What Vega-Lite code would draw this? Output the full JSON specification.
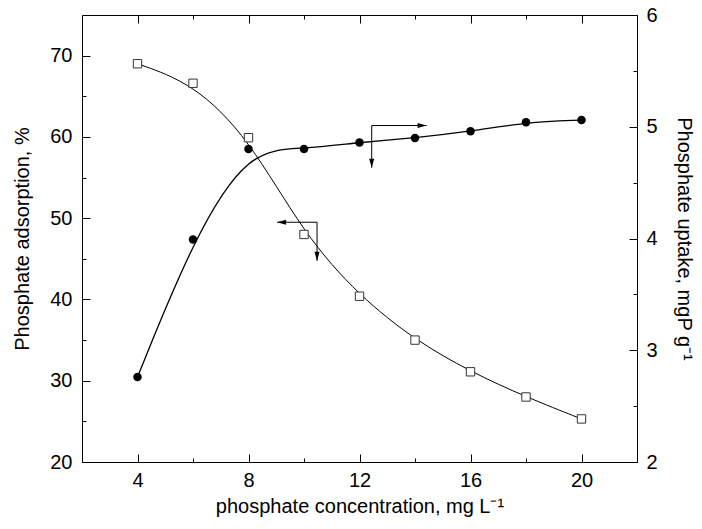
{
  "$schema": "https://vega.github.io/schema/vega-lite/v6.json",
  "width": 555,
  "height": 447,
  "autosize": {"type": "none"},
  "padding": {"left": 82, "top": 15, "right": 65, "bottom": 67},
  "background": "white",
  "config": {
    "view": {"stroke": null},
    "font": "Liberation Sans",
    "axis": {
      "grid": false,
      "labelFont": "Liberation Sans",
      "titleFont": "Liberation Sans",
      "labelFontSize": 20,
      "titleFontSize": 20,
      "titleFontWeight": "normal",
      "labelColor": "black",
      "titleColor": "black",
      "domainColor": "black",
      "domainWidth": 1,
      "tickColor": "black",
      "tickWidth": 1
    }
  },
  "datasets": {
    "ads": [
      {"c": 4, "ads": 69.0},
      {"c": 6, "ads": 66.6},
      {"c": 8, "ads": 59.9},
      {"c": 10, "ads": 48.0},
      {"c": 12, "ads": 40.4},
      {"c": 14, "ads": 35.0},
      {"c": 16, "ads": 31.1},
      {"c": 18, "ads": 28.0},
      {"c": 20, "ads": 25.3}
    ],
    "up": [
      {"c": 4, "up": 2.76},
      {"c": 6, "up": 3.99},
      {"c": 8, "up": 4.80},
      {"c": 10, "up": 4.80},
      {"c": 12, "up": 4.86},
      {"c": 14, "up": 4.90},
      {"c": 16, "up": 4.96},
      {"c": 18, "up": 5.04},
      {"c": 20, "up": 5.06}
    ],
    "segs": [
      {"x": 10.47, "x2": 9.03, "y": 49.5, "y2": 49.5},
      {"x": 10.47, "x2": 10.47, "y": 49.5, "y2": 44.75},
      {"x": 12.44, "x2": 14.42, "y": 61.4, "y2": 61.4},
      {"x": 12.44, "x2": 12.44, "y": 61.4, "y2": 56.2}
    ],
    "heads": [
      {"x": 9.03, "y": 49.5, "dir": "left"},
      {"x": 10.47, "y": 44.75, "dir": "down"},
      {"x": 14.42, "y": 61.4, "dir": "right"},
      {"x": 12.44, "y": 56.2, "dir": "down"}
    ]
  },
  "layer": [
    {
      "data": {"name": "ads"},
      "mark": {"type": "line", "interpolate": "basis", "color": "black", "strokeWidth": 1},
      "encoding": {
        "x": {
          "field": "c", "type": "quantitative",
          "scale": {"domain": [2, 22], "nice": false, "zero": false},
          "axis": {
            "orient": "bottom",
            "values": [4, 6, 8, 10, 12, 14, 16, 18, 20],
            "labelExpr": "datum.value % 4 === 0 ? datum.label : ''",
            "tickSize": {"condition": {"test": "datum.value % 4 === 0", "value": -8}, "value": -4},
            "labelPadding": 16,
            "title": "phosphate concentration, mg L⁻¹",
            "titlePadding": 6
          }
        },
        "y": {
          "field": "ads", "type": "quantitative",
          "scale": {"domain": [20, 75], "nice": false, "zero": false},
          "axis": {
            "orient": "left",
            "values": [20, 25, 30, 35, 40, 45, 50, 55, 60, 65, 70],
            "labelExpr": "datum.value % 10 === 0 ? datum.label : ''",
            "tickSize": {"condition": {"test": "datum.value % 10 === 0", "value": -8}, "value": -4},
            "labelPadding": 18,
            "title": "Phosphate adsorption, %",
            "titlePadding": 17
          }
        }
      }
    },
    {
      "data": {"name": "ads"},
      "mark": {"type": "square", "fill": "white", "stroke": "#333333", "strokeWidth": 1, "size": 70, "opacity": 1},
      "encoding": {
        "x": {"field": "c", "type": "quantitative", "scale": {"domain": [2, 22], "nice": false, "zero": false}, "axis": null},
        "y": {"field": "ads", "type": "quantitative", "scale": {"domain": [20, 75], "nice": false, "zero": false}, "axis": null}
      }
    },
    {
      "data": {"name": "up"},
      "mark": {"type": "line", "interpolate": "basis", "color": "black", "strokeWidth": 1.3},
      "encoding": {
        "x": {
          "field": "c", "type": "quantitative",
          "scale": {"domain": [2, 22], "nice": false, "zero": false},
          "axis": {
            "orient": "top",
            "values": [4, 6, 8, 10, 12, 14, 16, 18, 20],
            "labels": false,
            "tickSize": {"condition": {"test": "datum.value % 4 === 0", "value": -8}, "value": -4},
            "title": null
          }
        },
        "y": {
          "field": "up", "type": "quantitative",
          "scale": {"domain": [2, 6], "nice": false, "zero": false},
          "axis": {
            "orient": "right",
            "values": [2, 2.5, 3, 3.5, 4, 4.5, 5, 5.5, 6],
            "labelExpr": "datum.value % 1 === 0 ? format(datum.value, 'd') : ''",
            "tickSize": {"condition": {"test": "datum.value % 1 === 0", "value": -8}, "value": -4},
            "labelPadding": 17,
            "title": "Phosphate uptake, mgP g⁻¹",
            "titlePadding": 16
          }
        }
      }
    },
    {
      "data": {"name": "up"},
      "mark": {"type": "circle", "color": "black", "size": 72, "opacity": 1},
      "encoding": {
        "x": {"field": "c", "type": "quantitative", "scale": {"domain": [2, 22], "nice": false, "zero": false}, "axis": null},
        "y": {"field": "up", "type": "quantitative", "scale": {"domain": [2, 6], "nice": false, "zero": false}, "axis": null}
      }
    },
    {
      "data": {"name": "segs"},
      "mark": {"type": "rule", "color": "black", "strokeWidth": 1},
      "encoding": {
        "x": {"field": "x", "type": "quantitative", "scale": {"domain": [2, 22], "nice": false, "zero": false}, "axis": null},
        "x2": {"field": "x2"},
        "y": {"field": "y", "type": "quantitative", "scale": {"domain": [20, 75], "nice": false, "zero": false}, "axis": null},
        "y2": {"field": "y2"}
      }
    },
    {
      "data": {"name": "heads"},
      "mark": {"type": "point", "filled": true, "color": "black", "size": 324, "opacity": 1, "strokeWidth": 0},
      "encoding": {
        "x": {"field": "x", "type": "quantitative", "scale": {"domain": [2, 22], "nice": false, "zero": false}, "axis": null},
        "y": {"field": "y", "type": "quantitative", "scale": {"domain": [20, 75], "nice": false, "zero": false}, "axis": null},
        "shape": {
          "field": "dir", "type": "nominal",
          "scale": {"domain": ["left", "down", "right"], "range": ["M0,0L1,-0.28L1,0.28Z", "M0,0L-0.28,-1L0.28,-1Z", "M0,0L-1,-0.28L-1,0.28Z"]},
          "legend": null
        }
      }
    }
  ],
  "resolve": {"scale": {"y": "independent"}, "axis": {"x": "independent", "y": "independent"}}
}
